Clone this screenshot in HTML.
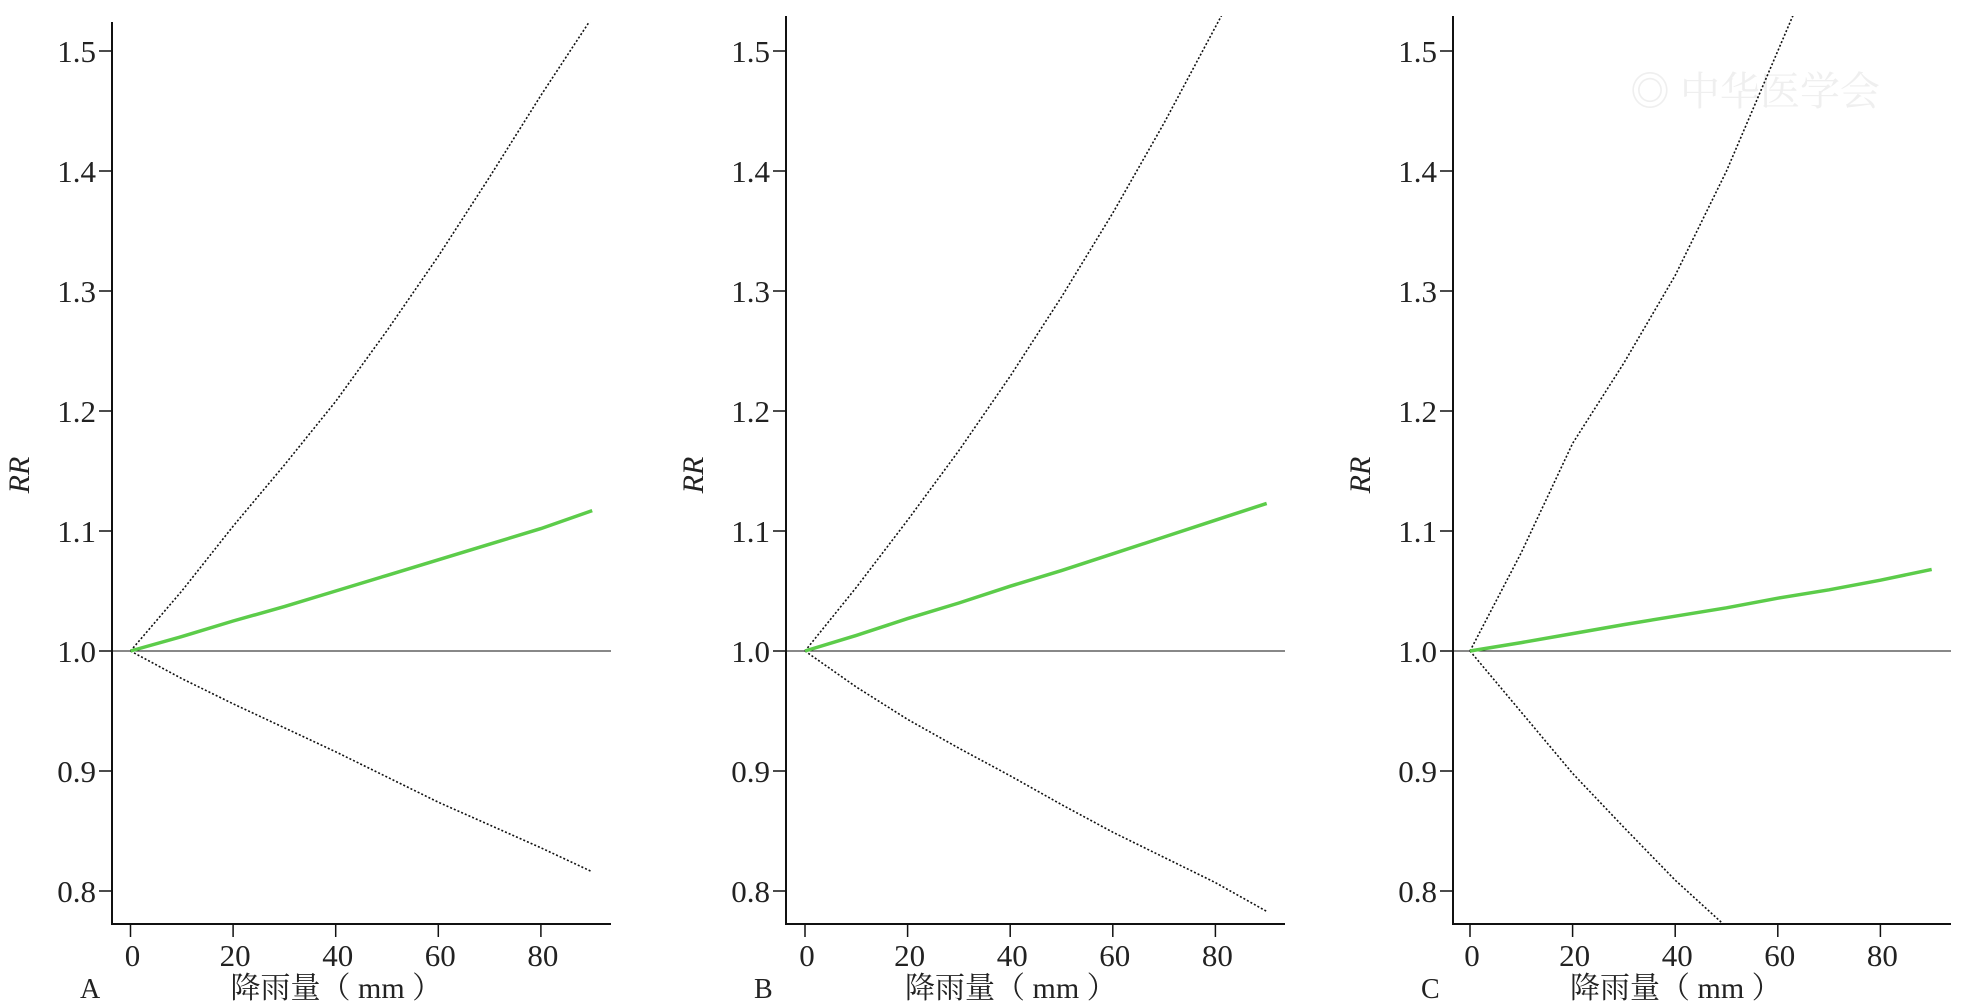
<!DOCTYPE html>
<html><head><meta charset="utf-8"><style>
html,body{margin:0;padding:0;background:#fff;width:1964px;height:1007px;overflow:hidden}
svg{display:block;overflow:hidden}
svg text{font-family:"Liberation Serif","Noto Serif CJK SC",serif;fill:#222}
</style></head><body>
<svg id="chart" width="1964" height="1007" viewBox="0 0 1964 1007" xmlns="http://www.w3.org/2000/svg">
<text x="1630" y="105" font-size="40" style="fill:#efefef" font-family="Noto Serif CJK SC, serif">◎ 中华医学会</text>
</svg>
<script>
const xValues = [0, 10, 20, 30, 40, 50, 60, 70, 80, 90];
const xTicks = [0, 20, 40, 60, 80];
const yTicks = [0.8, 0.9, 1.0, 1.1, 1.2, 1.3, 1.4, 1.5];
const yTickLabels = ["0.8", "0.9", "1.0", "1.1", "1.2", "1.3", "1.4", "1.5"];
const panelLabels = ["A", "B", "C"];
const upperA = [1.0, 1.05, 1.104, 1.155, 1.208, 1.267, 1.329, 1.395, 1.463, 1.528];
const estA = [1.0, 1.012, 1.025, 1.037, 1.050, 1.063, 1.076, 1.089, 1.102, 1.117];
const lowerA = [1.0, 0.977, 0.956, 0.936, 0.916, 0.895, 0.874, 0.855, 0.836, 0.816];
const upperB = [1.0, 1.053, 1.109, 1.167, 1.229, 1.295, 1.365, 1.44, 1.52, 1.60];
const estB = [1.0, 1.013, 1.027, 1.040, 1.054, 1.067, 1.081, 1.095, 1.109, 1.123];
const lowerB = [1.0, 0.97, 0.943, 0.919, 0.896, 0.872, 0.849, 0.828, 0.807, 0.783];
const upperC = [1.0, 1.082, 1.173, 1.24, 1.313, 1.40, 1.50, 1.60, 1.70, 1.80];
const estC = [1.0, 1.007, 1.0145, 1.022, 1.029, 1.036, 1.044, 1.051, 1.059, 1.068];
const lowerC = [1.0, 0.949, 0.898, 0.853, 0.809, 0.77, 0.73, 0.69, 0.65, 0.61];

const NS = "http://www.w3.org/2000/svg";
const svg = document.getElementById("chart");
function mk(tag, attrs, parent){const e=document.createElementNS(NS,tag);for(const k in attrs)e.setAttribute(k,attrs[k]);(parent||svg).appendChild(e);return e;}

const panels = [
 {axisX:112, x0:130.5, right:611, top:22, up:upperA, est:estA, lo:lowerA},
 {axisX:786, x0:805, right:1285, top:16, up:upperB, est:estB, lo:lowerB},
 {axisX:1453, x0:1470, right:1951, top:16, up:upperC, est:estC, lo:lowerC}
];
const bottom = 924;
function yS(v){return 651 + (1.0 - v) * 1200;}

panels.forEach((p, i) => {
  const xS = v => p.x0 + v * 5.13;
  const g = mk("g", {});
  
  
  const cid = "clip" + i;
  const cp = mk("clipPath", {id: cid}, g);
  mk("rect", {x: p.axisX, y: p.top, width: p.right - p.axisX, height: bottom - p.top}, cp);
  const ya = mk("line", {x1:p.axisX, y1:p.top, x2:p.axisX, y2:bottom+1, stroke:"#111", "stroke-width":2}, g);
  
  
  const xa = mk("line", {x1:p.axisX-1, y1:bottom, x2:p.right, y2:bottom, stroke:"#111", "stroke-width":2}, g);
  
  
  yTicks.forEach((t, k) => {
    const y = yS(t);
    mk("line", {x1:p.axisX-13, y1:y, x2:p.axisX, y2:y, stroke:"#111", "stroke-width":1.5}, g);
    const tx = mk("text", {x:p.axisX-16, y:y+11, "font-size":31, "text-anchor":"end"}, g);
    tx.textContent = yTickLabels[k];
    
    
  });
  xTicks.forEach(t => {
    const x = xS(t);
    mk("line", {x1:x, y1:bottom, x2:x, y2:bottom+13, stroke:"#111", "stroke-width":1.5}, g);
    const tx = mk("text", {x:x+2, y:966, "font-size":31, "text-anchor":"middle"}, g);
    tx.textContent = String(t);
    
    
  });
  const rl = mk("line", {x1:p.axisX, y1:yS(1.0), x2:p.right, y2:yS(1.0), stroke:"#111", "stroke-width":1}, g);
  
  
  const yl = mk("text", {x:0, y:0, "font-size":30, "font-style":"italic", "text-anchor":"middle", transform:`translate(${p.axisX-83},475) rotate(-90)`}, g);
  yl.textContent = "RR";
  
  
  const xl = mk("text", {x:p.x0+100, y:998, "font-size":30}, g);
  xl.textContent = "降雨量（ mm ）";
  
  
  const pl = mk("text", {x:p.axisX-32, y:998, "font-size":28}, g);
  pl.textContent = panelLabels[i];
  
  
  const series = [
    {d:p.up, name:'upper-ci-line', stroke:'#111', w:1.6, dash:'2 2'},
    {d:p.lo, name:'lower-ci-line', stroke:'#111', w:1.6, dash:'2 2'},
    {d:p.est, name:'rr-estimate-line', stroke:'#5ccc4a', w:3.5, dash:''}
  ];
  series.forEach(s => {
    const pts = s.d.map((v, k) => xS(xValues[k]).toFixed(1) + "," + yS(v).toFixed(1)).join(" ");
    const pl2 = mk("polyline", {points:pts, fill:"none", stroke:s.stroke, "stroke-width":s.w, "clip-path":`url(#${cid})`}, g);
    if (s.dash) pl2.setAttribute("stroke-dasharray", s.dash);
    
    
  });
});
</script>
</body></html>
